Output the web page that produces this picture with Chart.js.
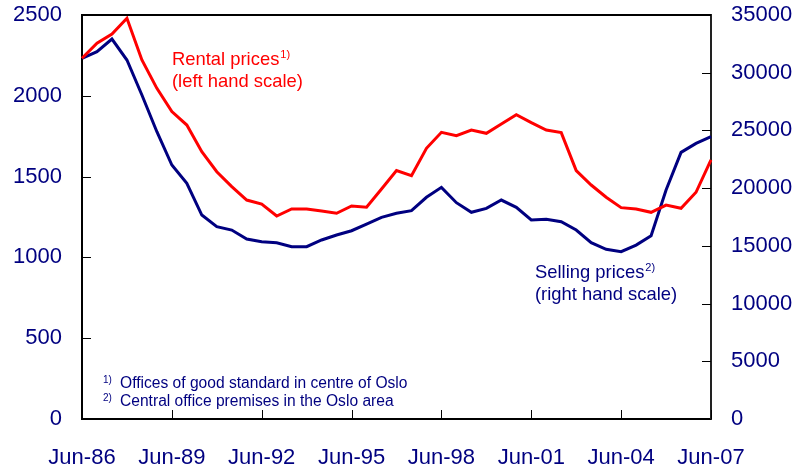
<!DOCTYPE html>
<html>
<head>
<meta charset="utf-8">
<script src="https://cdn.jsdelivr.net/npm/chart.js@4.4.1/dist/chart.umd.min.js"></script>
<style>
  body { margin: 0; background: #fff; }
  #wrap { width: 801px; height: 474px; position: relative; }
</style>
</head>
<body>
<div id="wrap"><canvas id="chart"></canvas></div>
<script>
// half-yearly observations, Jun-86 .. Jun-07
const periods = [];
for (let y = 86; y <= 107; y++) {
  const yy = String(y % 100).padStart(2, '0');
  periods.push('Jun-' + yy);
  if (y < 107) periods.push('Dec-' + yy);
}

// rental prices, NOK per sq m (left scale)
const rentalPrices = [
  2232, 2325, 2382, 2480, 2222, 2046, 1902, 1819, 1654, 1530,
  1438, 1355, 1330, 1256, 1300, 1300, 1287, 1273, 1318, 1310,
  1423, 1537, 1506, 1675, 1774, 1753, 1788, 1768, 1825, 1883,
  1834, 1788, 1772, 1537, 1448, 1372, 1308, 1300, 1279, 1324,
  1304, 1403, 1603
];

// selling prices, NOK per sq m (right scale)
const sellingPrices = [
  31250, 31820, 32920, 31100, 28070, 24890, 22000, 20420, 17670, 16660,
  16370, 15590, 15360, 15270, 14930, 14930, 15510, 15940, 16310, 16890,
  17470, 17820, 18050, 19210, 20070, 18740, 17910, 18250, 18970, 18340,
  17240, 17300, 17090, 16370, 15270, 14700, 14490, 15070, 15880, 19840,
  23100, 23880, 24460
];

const leftTicks = [0, 500, 1000, 1500, 2000, 2500];
const rightTicks = [0, 5000, 10000, 15000, 20000, 25000, 30000, 35000];
const xTickEvery = 6; // every third June

const navy = '#000080';
const red = '#ff0000';
const font = 'Liberation Sans, Arial, sans-serif';

// inward tick marks, top frame line and the text notes
const decorations = {
  id: 'decorations',
  afterDraw(chart) {
    const { ctx, chartArea: a } = chart;
    const yl = chart.scales.y, yr = chart.scales.y2, x = chart.scales.x;
    ctx.save();
    ctx.strokeStyle = '#000';
    ctx.lineWidth = 1;
    ctx.beginPath();
    leftTicks.forEach(v => {
      const p = Math.round(yl.getPixelForValue(v)) + 0.5;
      ctx.moveTo(a.left, p); ctx.lineTo(a.left + 9, p);
    });
    rightTicks.forEach(v => {
      const p = Math.round(yr.getPixelForValue(v)) + 0.5;
      ctx.moveTo(a.right, p); ctx.lineTo(a.right - 9, p);
    });
    periods.forEach((lab, i) => {
      if (i % xTickEvery) return;
      const p = Math.round(x.getPixelForValue(i)) + 0.5;
      ctx.moveTo(p, a.bottom); ctx.lineTo(p, a.bottom - 9);
    });
    ctx.stroke();

    ctx.lineWidth = 2;
    ctx.beginPath();
    ctx.moveTo(a.left, a.top); ctx.lineTo(a.right, a.top);
    ctx.stroke();

    const note = (txt, sup, px, py, size, col) => {
      ctx.fillStyle = col;
      ctx.textBaseline = 'middle';
      ctx.textAlign = 'left';
      ctx.font = size + 'px ' + font;
      ctx.fillText(txt, px, py);
      if (sup) {
        const w = ctx.measureText(txt).width;
        ctx.font = Math.round(size * 0.62) + 'px ' + font;
        ctx.fillText(sup, px + w + 1, py - size * 0.28);
      }
    };
    note('Rental prices', '1)', 172, 60, 18.4, red);
    note('(left hand scale)', '', 172, 82, 18.4, red);
    note('Selling prices', '2)', 535, 273, 18.4, navy);
    note('(right hand scale)', '', 535, 295, 18.4, navy);

    const foot = (sup, txt, py) => {
      ctx.fillStyle = navy;
      ctx.textBaseline = 'middle';
      ctx.font = '10px ' + font;
      ctx.fillText(sup, 103, py - 4);
      ctx.font = '15.6px ' + font;
      ctx.fillText(txt, 120, py);
    };
    foot('1)', 'Offices of good standard in centre of Oslo', 384);
    foot('2)', 'Central office premises in the Oslo area', 402);
    ctx.restore();
  }
};

const tickFont = { family: font, size: 22, lineHeight: 1 };

new Chart(document.getElementById('chart'), {
  type: 'line',
  data: {
    labels: periods,
    datasets: [
      {
        label: 'Rental prices',
        data: rentalPrices,
        yAxisID: 'y',
        borderColor: red,
        borderWidth: 3,
        pointRadius: 0,
        tension: 0,
        fill: false
      },
      {
        label: 'Selling prices',
        data: sellingPrices,
        yAxisID: 'y2',
        borderColor: navy,
        borderWidth: 3,
        pointRadius: 0,
        tension: 0,
        fill: false
      }
    ]
  },
  options: {
    responsive: true,
    maintainAspectRatio: false,
    animation: false,
    layout: { padding: 0 },
    plugins: { legend: { display: false }, tooltip: { enabled: false } },
    scales: {
      x: {
        type: 'category',
        offset: false,
        grid: { display: false, drawTicks: false },
        border: { display: true, color: '#000', width: 2 },
        ticks: {
          autoSkip: false,
          maxRotation: 0,
          padding: 28,
          color: navy,
          font: tickFont,
          callback: (v, i) => (i % xTickEvery === 0 ? periods[i] : '')
        },
        afterFit: s => { s.height = 55; }
      },
      y: {
        position: 'left',
        min: 0,
        max: 2500,
        afterBuildTicks: s => { s.ticks = leftTicks.map(v => ({ value: v })); },
        grid: { display: false, drawTicks: false },
        border: { display: true, color: '#000', width: 2 },
        ticks: { padding: 20, color: navy, font: tickFont, callback: v => String(v) },
        afterFit: s => { s.width = 82; s.paddingTop = 15; }
      },
      y2: {
        position: 'right',
        min: 0,
        max: 35000,
        afterBuildTicks: s => { s.ticks = rightTicks.map(v => ({ value: v })); },
        grid: { display: false, drawTicks: false },
        border: { display: true, color: '#222', width: 2 },
        ticks: { padding: 20, color: navy, font: tickFont, callback: v => String(v) },
        afterFit: s => { s.width = 90; s.paddingTop = 15; }
      }
    }
  },
  plugins: [decorations]
});
</script>
</body>
</html>
